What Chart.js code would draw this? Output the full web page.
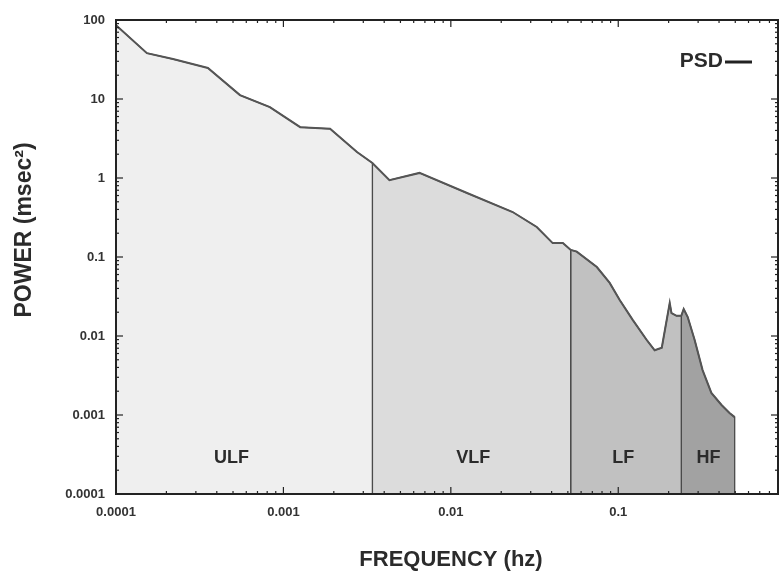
<!DOCTYPE html>
<html>
<head>
<meta charset="utf-8">
<title>PSD bands</title>
<script src="https://cdn.jsdelivr.net/npm/chart.js@4.4.1/dist/chart.umd.min.js"></script>
<style>
    html, body { margin: 0; padding: 0; background: #fff; overflow: hidden; }
    #wrap { width: 780px; height: 573px; }
</style>
</head>
<body>
<div id="wrap"><canvas id="psdChart"></canvas></div>
<script>
// spectrum: frequency (hz) and power (msec^2)
const freqHz = [
    0.0001, 0.000153, 0.000219, 0.000354, 0.00055, 0.00083, 0.00126, 0.0019, 0.00275, 0.0034,
    0.0043, 0.0065, 0.0125, 0.0234, 0.0326, 0.0406, 0.0467, 0.052,
    0.0565, 0.0745, 0.0889, 0.102, 0.122, 0.148, 0.165, 0.182, 0.19, 0.203, 0.208, 0.223, 0.238,
    0.246, 0.26, 0.286, 0.319, 0.36, 0.414, 0.462, 0.496
];
const powerMs2 = [
    86, 38, 32, 24.7, 11.2, 7.9, 4.4, 4.2, 2.13, 1.55,
    0.94, 1.16, 0.645, 0.371, 0.24, 0.15, 0.15, 0.123,
    0.117, 0.0746, 0.047, 0.0286, 0.016, 0.0089, 0.0066, 0.0071, 0.0119, 0.0262, 0.0195, 0.018, 0.018,
    0.022, 0.0174, 0.0089, 0.0037, 0.0019, 0.00134, 0.00106, 0.00094
];
const bandNames = ['ULF', 'VLF', 'LF', 'HF'];
const bandEdges = [0.0001, 0.0034, 0.052, 0.238, 0.496];
const xTickLabels = ['0.0001', '0.001', '0.01', '0.1'];
const yTickLabels = ['0.0001', '0.001', '0.01', '0.1', '1', '10', '100'];

const Y_MIN = 0.0001;
const bandColors = ['#efefef', '#dcdcdc', '#c1c1c1', '#a2a2a2'];
// where the band names sit (in data units)
const bandLabelFreq = [0.00049, 0.0136, 0.107, 0.346];
const bandLabelPower = 0.00025;

const FONT = 'Arial, "Liberation Sans", sans-serif';
Chart.defaults.font.family = FONT;
Chart.defaults.color = '#2b2b2b';

const psdPoints = freqHz.map((f, i) => ({ x: f, y: powerMs2[i] }));

// one filled dataset per band, closed down to the bottom of the axis
const bandSets = bandNames.map((name, i) => {
    const lo = bandEdges[i], hi = bandEdges[i + 1];
    const inside = psdPoints.filter(p => p.x >= lo && p.x <= hi);
    return {
        label: name,
        data: [{ x: lo, y: Y_MIN }, ...inside, { x: hi, y: Y_MIN }],
        showLine: true,
        fill: 'start',
        backgroundColor: bandColors[i],
        borderColor: '#4a4a4a',
        borderWidth: 1.3,
        pointRadius: 0
    };
});

function decadeLabel(list, offset) {
    return (v) => {
        const e = Math.log10(v);
        if (Math.abs(e - Math.round(e)) > 1e-6) return '';
        return list[Math.round(e) + offset] ?? '';
    };
}

function tickLen(v) {
    const e = Math.log10(v);
    if (Math.abs(e - Math.round(e)) < 1e-6) return 7;
    const m = v / Math.pow(10, Math.floor(e));
    return Math.abs(m - Math.round(m)) < 1e-6 ? 3 : 0;
}

// inward tick marks, box frame, band names, key and axis titles
const framePlugin = {
    id: 'framePlugin',
    afterDatasetsDraw(chart) {
        const { ctx, chartArea: a, scales: { x, y } } = chart;
        ctx.save();
        ctx.strokeStyle = '#222';
        ctx.lineWidth = 1.2;
        const seg = (x1, y1, x2, y2) => { ctx.beginPath(); ctx.moveTo(x1, y1); ctx.lineTo(x2, y2); ctx.stroke(); };
        y.ticks.forEach(t => {
            const len = tickLen(t.value);
            if (!len) return;
            const py = y.getPixelForValue(t.value);
            seg(a.left, py, a.left + len, py);
            seg(a.right, py, a.right - len, py);
        });
        x.ticks.forEach(t => {
            const len = tickLen(t.value);
            if (!len) return;
            const px = x.getPixelForValue(t.value);
            seg(px, a.bottom, px, a.bottom - len);
            seg(px, a.top, px, a.top + len);
        });
        ctx.lineWidth = 2;
        ctx.strokeRect(a.left, a.top, a.right - a.left, a.bottom - a.top);

        // band names
        ctx.fillStyle = '#2b2b2b';
        ctx.font = 'bold 18px ' + FONT;
        ctx.textAlign = 'center';
        ctx.textBaseline = 'alphabetic';
        bandNames.forEach((n, i) => {
            ctx.fillText(n, x.getPixelForValue(bandLabelFreq[i]), y.getPixelForValue(bandLabelPower));
        });

        // PSD key
        ctx.font = 'bold 21px ' + FONT;
        ctx.textAlign = 'right';
        ctx.fillText('PSD', a.right - 55, a.top + 47);
        ctx.lineWidth = 3;
        seg(a.right - 53, a.top + 42, a.right - 26, a.top + 42);

        // axis titles
        ctx.font = 'bold 22px ' + FONT;
        ctx.textAlign = 'center';
        ctx.fillText('FREQUENCY (hz)', (a.left + a.right) / 2 + 4, chart.height - 7);
        ctx.font = 'bold 23px ' + FONT;
        ctx.translate(31, (a.top + a.bottom) / 2 - 27);
        ctx.rotate(-Math.PI / 2);
        ctx.fillText('POWER (msec²)', 0, 0);
        ctx.restore();
    }
};

new Chart(document.getElementById('psdChart'), {
    type: 'scatter',
    data: {
        datasets: [{
            label: 'PSD',
            data: psdPoints,
            showLine: true,
            fill: false,
            borderColor: '#555',
            borderWidth: 2,
            pointRadius: 0
        }, ...bandSets]
    },
    options: {
        responsive: true,
        maintainAspectRatio: false,
        animation: false,
        layout: { autoPadding: false, padding: { top: 20, right: 2, left: 0, bottom: 0 } },
        plugins: {
            legend: { display: false },
            tooltip: { enabled: false }
        },
        scales: {
            x: {
                type: 'logarithmic',
                min: 0.0001,
                max: 0.9,
                afterFit: s => { s.height = 79; s.paddingLeft = 0; s.paddingRight = 0; },
                grid: { display: false, drawTicks: false },
                border: { display: false },
                ticks: {
                    autoSkip: false,
                    maxRotation: 0,
                    padding: 11,
                    font: { size: 13, weight: 'bold' },
                    color: '#333',
                    callback: decadeLabel(xTickLabels, 4)
                }
            },
            y: {
                type: 'logarithmic',
                min: 0.0001,
                max: 100,
                afterFit: s => { s.width = 116; s.paddingTop = 0; s.paddingBottom = 0; },
                grid: { display: false, drawTicks: false },
                border: { display: false },
                ticks: {
                    autoSkip: false,
                    padding: 11,
                    font: { size: 13, weight: 'bold' },
                    color: '#333',
                    callback: decadeLabel(yTickLabels, 4)
                }
            }
        }
    },
    plugins: [framePlugin]
});
</script>
</body>
</html>
